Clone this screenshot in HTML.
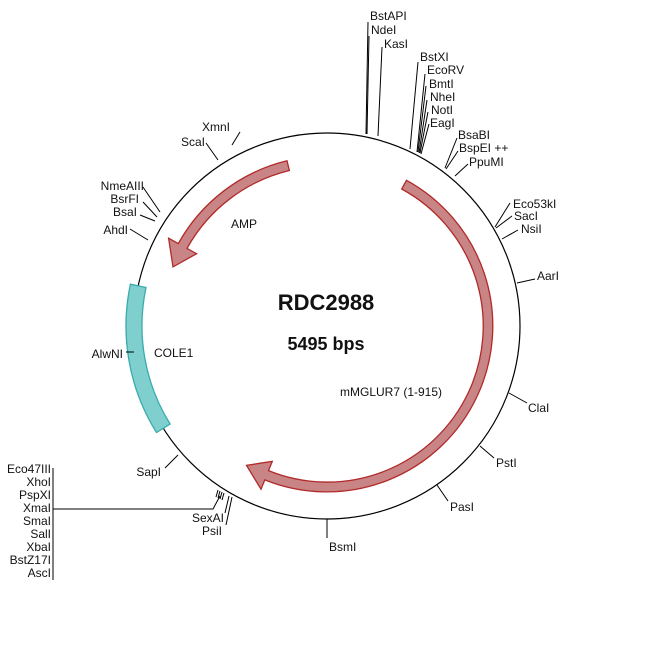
<!DOCTYPE html>
<html><head><meta charset="utf-8"><style>
html,body{margin:0;padding:0;background:#fff}
svg text{font-family:"Liberation Sans",Arial,sans-serif;font-size:12px;fill:#111}
</style></head><body>
<svg width="650" height="650" viewBox="0 0 650 650" xmlns="http://www.w3.org/2000/svg">
<circle cx="327" cy="326" r="193" fill="none" stroke="#000" stroke-width="1.2"/>
<!-- mMGLUR7 -->
<path d="M406.5,180.3 A166,166 0 0 1 264.8,479.9 L261,489.2 L246.5,465.4 L272.3,461.3 L268.5,470.6 A156,156 0 0 0 401.7,189 Z" fill="#c98585" stroke="#b02a2a" stroke-width="1.3"/>
<!-- AMP -->
<path d="M287,160.8 A170,170 0 0 0 178.3,243.6 L168.6,238.2 L173,266.9 L196.6,253.7 L187,248.4 A160,160 0 0 1 289.4,170.5 Z" fill="#c98585" stroke="#b02a2a" stroke-width="1.3"/>
<!-- COLE1 -->
<path d="M130.4,284.2 A201,201 0 0 0 156.5,432.5 L170.1,424 A185,185 0 0 1 146,287.5 Z" fill="#7fcfcf" stroke="#3aacac" stroke-width="1.3"/>

<g stroke="#000" stroke-width="1" fill="none">
<path d="M366,134 L368,22"/><path d="M367,134 L369,36"/>
<path d="M378,136 L382,47"/>
<path d="M410,149 L418,62"/>
<path d="M417,152 L425,74"/><path d="M418,152 L426,86"/><path d="M419,153 L427,100"/><path d="M420,153 L428,112"/><path d="M421,154 L429,124"/>
<path d="M445,168 L457,138"/><path d="M446,169 L458,151"/><path d="M455,176 L468,164"/>
<path d="M495,227 L510,203"/><path d="M496,228 L512,216"/><path d="M502,239 L518,230"/>
<path d="M517,283 L535,279"/>
<path d="M509,393 L527,403"/>
<path d="M480,446 L494,458"/>
<path d="M437,485 L448,501"/>
<path d="M327,519 L327,538"/>
<path d="M218,490 L216,497"/><path d="M220,491 L218,498"/><path d="M222,492 L220,499"/><path d="M224,493 L222,500"/>
<path d="M229,496 L225,513"/><path d="M232,497 L226,525"/>
<path d="M53,509 L213,509 L220,496"/>
<path d="M53,468 L53,580"/>
<path d="M178,455 L165,468"/>
<path d="M232,145 L240,132"/>
<path d="M218,160 L206,143"/>
<path d="M160,212 L145,190 L143,187"/>
<path d="M157,217 L143,202"/>
<path d="M155,221 L140,215"/>
<path d="M148,240 L130,229"/>
<path d="M126,352 L134,352"/>
</g>

<text x="370" y="20">BstAPI</text>
<text x="371" y="34">NdeI</text>
<text x="384" y="48">KasI</text>
<text x="420" y="61">BstXI</text>
<text x="427" y="74">EcoRV</text>
<text x="429" y="88">BmtI</text>
<text x="430" y="101">NheI</text>
<text x="431" y="114">NotI</text>
<text x="430" y="127">EagI</text>
<text x="458" y="139">BsaBI</text>
<text x="459" y="152">BspEI ++</text>
<text x="469" y="166">PpuMI</text>
<text x="513" y="208">Eco53kI</text>
<text x="514" y="220">SacI</text>
<text x="521" y="233">NsiI</text>
<text x="537" y="280">AarI</text>
<text x="528" y="412">ClaI</text>
<text x="496" y="467">PstI</text>
<text x="450" y="511">PasI</text>
<text x="329" y="551">BsmI</text>
<text x="224" y="522" text-anchor="end">SexAI</text>
<text x="222" y="535" text-anchor="end">PsiI</text>
<text x="161" y="476" text-anchor="end">SapI</text>
<g text-anchor="end">
<text x="51" y="473">Eco47III</text>
<text x="51" y="486">XhoI</text>
<text x="51" y="499">PspXI</text>
<text x="51" y="512">XmaI</text>
<text x="51" y="525">SmaI</text>
<text x="51" y="538">SalI</text>
<text x="51" y="551">XbaI</text>
<text x="51" y="564">BstZ17I</text>
<text x="51" y="577">AscI</text>
<text x="230" y="131">XmnI</text>
<text x="205" y="146">ScaI</text>
<text x="144" y="190">NmeAIII</text>
<text x="139" y="203">BsrFI</text>
<text x="137" y="216">BsaI</text>
<text x="128" y="234">AhdI</text>
<text x="123" y="358">AlwNI</text>
</g>
<text x="231" y="228">AMP</text>
<text x="154" y="357">COLE1</text>
<text x="340" y="396">mMGLUR7 (1-915)</text>
<text x="326" y="310" text-anchor="middle" style="font-size:22px;font-weight:bold">RDC2988</text>
<text x="326" y="350" text-anchor="middle" style="font-size:18px;font-weight:bold">5495 bps</text>
</svg>
</body></html>
